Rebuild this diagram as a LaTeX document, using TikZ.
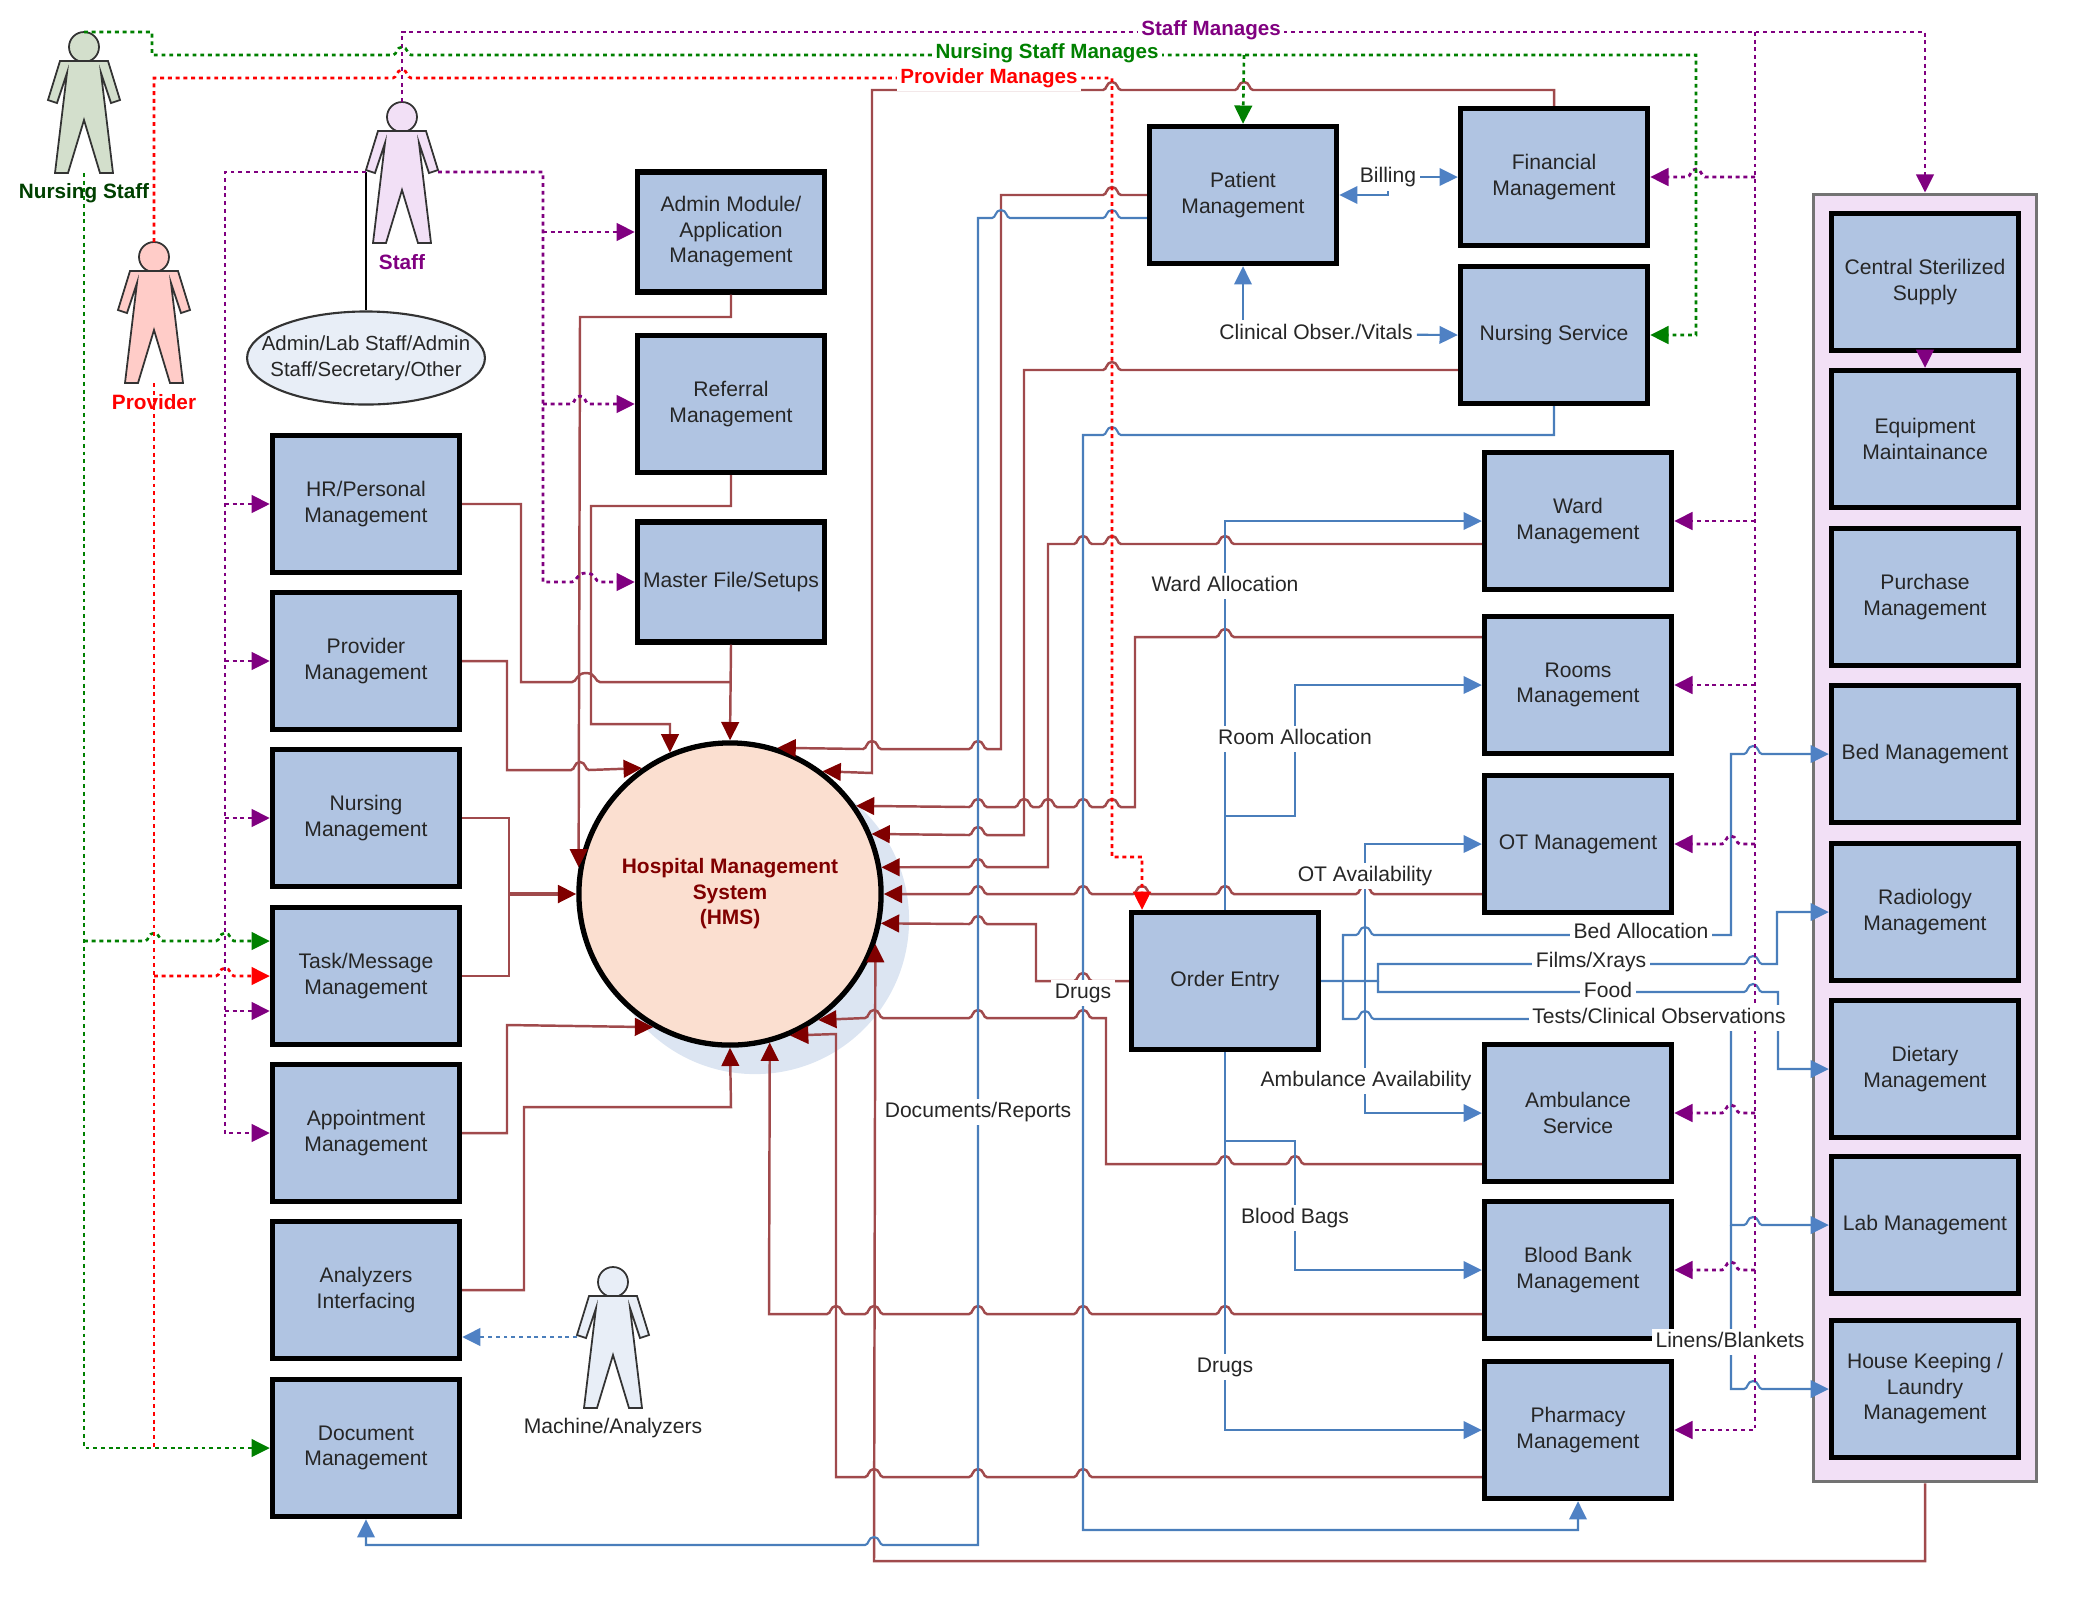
\documentclass[tikz,border=0pt]{standalone}
\usepackage{fontspec}
\setmainfont{Liberation Sans}
\usetikzlibrary{arrows.meta,shapes.geometric}
\definecolor{boxblue}{HTML}{B0C4E2}
\definecolor{grpfill}{HTML}{F2E0F6}
\definecolor{hmsfill}{HTML}{FBDFD0}
\definecolor{hmsshade}{HTML}{DCE5F2}
\definecolor{lnbrown}{HTML}{A04A4C}
\definecolor{tipbrown}{HTML}{800000}
\definecolor{lnblue}{HTML}{4A7EBB}
\definecolor{tipblue}{HTML}{4F81C4}
\definecolor{pale}{HTML}{E8EEF7}
\definecolor{nursefill}{HTML}{D3DFCC}
\definecolor{provfill}{HTML}{FFCCC8}
\definecolor{purp}{HTML}{800080}
\definecolor{grnn}{HTML}{008000}
% line jumps, going right and going left
\newcommand\hopr[2]{-- ({#1-9},#2) .. controls ({#1-5},#2) and ({#1-6},{#2-8}) .. (#1,{#2-8}) .. controls ({#1+6},{#2-8}) and ({#1+5},#2) .. ({#1+9},#2)}
\newcommand\hopl[2]{-- ({#1+9},#2) .. controls ({#1+5},#2) and ({#1+6},{#2-8}) .. (#1,{#2-8}) .. controls ({#1-6},{#2-8}) and ({#1-5},#2) .. ({#1-9},#2)}
\newcommand\hoprw[2]{-- ({#1-14},#2) .. controls ({#1-9},#2) and ({#1-10},{#2-9}) .. (#1,{#2-9}) .. controls ({#1+10},{#2-9}) and ({#1+9},#2) .. ({#1+14},#2)}
\tikzset{
  actor/.pic={
    \draw[pic actions] (0,15) circle [radius=15];
    \draw[pic actions] (-24,29) -- (-36,68) -- (-27,71) -- (-17,41) -- (-29,141) -- (-16,141)
      -- (0,88) -- (16,141) -- (29,141) -- (17,41) -- (27,71) -- (36,68) -- (24,29) -- cycle;
    \coordinate (-head) at (0,0);
    \coordinate (-feet) at (0,141);
    \coordinate (-lh) at (-36,70);
    \coordinate (-rh) at (36,70);
  }
}
\begin{document}
\begin{tikzpicture}[x=0.01cm,y=-0.01cm,
  module/.style={draw=black,line width=1.5pt,fill=boxblue,inner sep=0,minimum width=1.87cm,minimum height=1.37cm,
    align=center,text=black!85,font=\fontsize{6}{7.25}\selectfont},
  lbl/.style={fill=white,inner sep=1pt,text height=4.4pt,text depth=1.2pt,text=black!85,font=\fontsize{6}{7.25}\selectfont},
  who/.style={inner sep=0,text height=4.4pt,text depth=1.2pt,font=\fontsize{5.9}{7.25}\selectfont\bfseries},
  manages/.style={fill=white,inner sep=1pt,text height=4.4pt,text depth=1.2pt,font=\fontsize{5.85}{7.25}\selectfont\bfseries},
  brn/.style={draw=lnbrown,line width=.7pt},
  blu/.style={draw=lnblue,line width=.6pt},
  pur/.style={draw=purp,line width=.8pt,dash pattern=on 1.1pt off 1.1pt},
  grn/.style={draw=grnn,line width=.75pt,dash pattern=on 1.1pt off 1.1pt},
  rdd/.style={draw=red,line width=.75pt,dash pattern=on 1.1pt off 1.1pt},
  tipb/.style={-{Triangle[length=5.2pt,width=5pt,color=tipbrown]}},
  tipl/.style={-{Triangle[length=5.2pt,width=5pt,color=tipblue]}},
  tipp/.style={-{Triangle[length=5.2pt,width=5pt,color=purp]}},
  tipg/.style={-{Triangle[length=5.2pt,width=5pt,color=grnn]}},
  tipr/.style={-{Triangle[length=5.2pt,width=5pt,color=red]}}
  ]
  \useasboundingbox (0,0) rectangle (2100,1596);
  % 
  % Actors
  % 
  \pic (nurse)   [draw=black!80,line width=.5pt,fill=nursefill] at (84,32)    {actor};
  \pic (staff)   [draw=black!80,line width=.5pt,fill=grpfill]   at (402,102)  {actor};
  \pic (prov)    [draw=black!80,line width=.5pt,fill=provfill]  at (154,242)  {actor};
  \pic (machine) [draw=black!80,line width=.5pt,fill=pale]      at (613,1267) {actor};
  \node(staffs)[draw=black!80,line width=.6pt,fill=pale,ellipse,inner ysep=0,inner xsep=-.2cm,minimum width=2.36cm,minimum height=.93cm,
    align=center,text=black!85,font=\fontsize{5.8}{7.25}\selectfont] at (366,358) {Admin/Lab Staff/Admin\\Staff/Secretary/Other};
  % 
  % Hospital system
  % 
  \node(shade) [circle,fill=hmsshade,minimum size=3.08cm,inner sep=0] at (755,920) {};
  \node(hms)   [circle,draw=black,line width=1.5pt,fill=hmsfill,minimum size=3.02cm,inner sep=0,align=center,
    text=tipbrown,font=\fontsize{5.95}{7.25}\selectfont\bfseries] at (730,894) {Hospital Management\\System\\(HMS)};
  % 
  % Nodes
  % 
  \node(hr)       [module] at (366,504)  {HR/Personal\\Management};
  \node(provider) [module] at (366,661)  {Provider\\Management};
  \node(nursing)  [module] at (366,818)  {Nursing\\Management};
  \node(task)     [module] at (366,976)  {Task/Message\\Management};
  \node(appoint)  [module] at (366,1133) {Appointment\\Management};
  \node(analyzer) [module] at (366,1290) {Analyzers\\Interfacing};
  \node(docmgmt)  [module] at (366,1448) {Document\\Management};
  \node(admin)    [module,minimum height=1.2cm] at (731,232) {Admin Module/\\Application\\Management};
  \node(referral) [module] at (731,404)  {Referral\\Management};
  \node(master)   [module,minimum height=1.2cm] at (731,582) {Master File/Setups};
  \node(patient)  [module] at (1243,195) {Patient\\Management};
  \node(financial)[module] at (1554,177) {Financial\\Management};
  \node(nursserv) [module] at (1554,335) {Nursing Service};
  \node(ward)     [module] at (1578,521) {Ward\\Management};
  \node(rooms)    [module] at (1578,685) {Rooms\\Management};
  \node(ot)       [module] at (1578,844) {OT Management};
  \node(ambul)    [module] at (1578,1113){Ambulance\\Service};
  \node(blood)    [module] at (1578,1270){Blood Bank\\Management};
  \node(pharm)    [module] at (1578,1430){Pharmacy\\Management};
  \node(order)    [module] at (1225,981) {Order Entry};
  \node(support)  [draw=black!55,line width=.9pt,fill=grpfill,inner sep=0,minimum width=2.23cm,minimum height=12.87cm] at (1925,838) {};
  \node(central)  [module] at (1925,282) {Central Sterilized\\Supply};
  \node(equip)    [module] at (1925,439) {Equipment\\Maintainance};
  \node(purchase) [module] at (1925,597) {Purchase\\Management};
  \node(bedmg)    [module] at (1925,754) {Bed Management};
  \node(radiology)[module] at (1925,912) {Radiology\\Management};
  \node(dietary)  [module] at (1925,1069){Dietary\\Management};
  \node(lab)      [module] at (1925,1225){Lab Management};
  \node(house)    [module] at (1925,1389){House Keeping /\\Laundry\\Management};
  \node(vitals)   [lbl] at (1316,334) {Clinical Obser./Vitals};
  \node(billing)  [lbl] at (1388,177) {Billing};
  % 
  % Arrows
  % 
  % hr -> hms
  \draw[brn] (hr.east) -- (521,504) -- (521,682) \hoprw{586}{682} -- (731,682);
  \draw[brn,tipb] (master.south) -- (hms.north);
  % admin -> hms
  \draw[brn,tipb] (admin.south) -- (731,317) -- (580,317) -- (hms.170);
  % referral -> hms
  \draw[brn,tipb] (referral.south) -- (731,506) -- (591,506) -- (591,724) -- (670,724) -- (hms.113);
  % provider -> hms
  \draw[brn,tipb] (provider.east) -- (507,661) -- (507,770) \hopr{580}{770} -- (hms.125);
  % nursing, task -> hms
  \coordinate (merge) at (509,894);
  \draw[brn] (nursing.east) -- (509,818) -- (merge);
  \draw[brn] (task.east) -- (509,976) -- (merge);
  \draw[brn,tipb,line width=.9pt] (merge) -- (hms.west);
  % appoint -> hms
  \draw[brn,tipb] (appoint.east) -- (507,1133) -- (507,1025) -- (hms.-120);
  % analyzer -> hms
  \draw[brn,tipb] (analyzer.east) -- (524,1290) -- (524,1107) -- (731,1107) -- (hms.south);
  % financial -> hms
  \draw[brn,tipb] (financial.north) -- (1554,90) \hopl{1244}{90} \hopl{1112}{90} -- (872,90) -- (872,773) -- (hms.53);
  % patient -> hms
  \draw[brn,tipb] (patient.west) \hopl{1112}{195} -- (1001,195) -- (1001,749) \hopl{978}{749} \hopl{872}{749} -- (hms.72);
  % nursserv -> hms
  \draw[brn,tipb] (nursserv.west |- 0,370) \hopl{1112}{370} -- (1024,370) -- (1024,835) \hopl{978}{835} -- (hms.23);
  % ward -> hms
  \draw[brn,tipb] (ward.west |- 0,544) \hopl{1225}{544} \hopl{1112}{544} \hopl{1083}{544} -- (1048,544) -- (1048,867) \hopl{978}{867} -- (hms.10);
  % rooms -> hms
  \draw[brn,tipb] (rooms.west |- 0,637) \hopl{1225}{637} -- (1135,637) -- (1135,807) \hopl{1112}{807} \hopl{1083}{807} \hopl{1048}{807} \hopl{1024}{807} \hopl{978}{807} -- (hms.35);
  % ot -> hms
  \draw[brn,tipb] (ot.west |- 0,894) \hopl{1365}{894} \hopl{1225}{894} \hopl{1142}{894} \hopl{1083}{894} \hopl{978}{894} -- (hms.east);
  % order -> hms
  \draw[brn,tipb] (order.west) \hopl{1083}{981} -- (1036,981) -- (1036,924) \hopl{978}{924} -- (hms.-11);
  % ambul -> hms
  \draw[brn,tipb] (ambul.west |- 0,1164) \hopl{1295}{1164} \hopl{1225}{1164} -- (1106,1164) -- (1106,1018) \hopl{1083}{1018} \hopl{978}{1018} \hopl{874}{1018} -- (hms.-55);
  % blood -> hms
  \draw[brn,tipb] (blood.west |- 0,1314) \hopl{1225}{1314} \hopl{1083}{1314} \hopl{978}{1314} \hopl{874}{1314} \hopl{836}{1314} -- (769,1314) -- (hms.-75);
  % pharm -> hms
  \draw[brn,tipb] (pharm.west |- 0,1477) \hopl{1083}{1477} \hopl{978}{1477} \hopl{874}{1477} -- (836,1477) -- (836,1034) -- (hms.-67);
  % support -> hms
  \draw[brn,tipb] (support.south) -- (1925,1561) -- (874,1561) -- (hms.-19);
  % patient -> docmgmt
  \draw[blu,tipl] (patient.west |- 0,218) \hopl{1112}{218} \hopl{1001}{218} -- (978,218) -- (978,1545) \hopl{874}{1545} -- (366,1545) -- (docmgmt.south);
  % nursserv -> pharm
  \draw[blu,tipl] (nursserv.south) -- (1554,435) \hopl{1112}{435} -- (1083,435) -- (1083,1530) -- (1578,1530) -- (pharm.south);
  % order -> ward, rooms
  \draw[blu,tipl] (order.north) |- (ward.west);
  \draw[blu,tipl] (order.north |- 0,816) -- (1295,816) |- (rooms.west);
  % order -> pharm, blood
  \draw[blu,tipl] (order.south) |- (pharm.west);
  \draw[blu,tipl] (order.south |- 0,1141) -- (1295,1141) |- (blood.west);
  % order -> radiology, dietary
  \draw[blu,tipl] (order.east) -- (1378,981) -- (1378,964) \hopr{1753}{964} -- (1777,964) |- (radiology.west);
  \draw[blu,tipl] (1378,981) -- (1378,992) \hopr{1753}{992} -- (1778,992) |- (dietary.west);
  % order -> bedmg
  \draw[blu,tipl] (1343,981) -- (1343,935) \hopr{1365}{935} -- (1731,935) -- (1731,754) \hopr{1753}{754} -- (bedmg.west);
  % order -> lab, house
  \draw[blu,tipl] (1343,981) -- (1343,1019) \hopr{1365}{1019} -- (1731,1019) -- (1731,1225) \hopr{1753}{1225} -- (lab.west);
  \draw[blu,tipl] (1731,1225) -- (1731,1389) \hopr{1753}{1389} -- (house.west);
  % ot <-> ambul
  \draw[blu,{Triangle[length=5.2pt,width=5pt,color=tipblue]}-{Triangle[length=5.2pt,width=5pt,color=tipblue]}] (ot.west) -- (1365,844) -- (1365,1113) -- (ambul.west);
  % billing
  \draw[blu,tipl] (billing) -- (financial.west);
  \draw[blu,tipl] (billing.south) |- (patient.east);
  % vitals
  \draw[blu,tipl] (vitals) -- (nursserv.west);
  \draw[blu,tipl] (patient.south |- vitals.north) -- (patient.south);
  % machine -> analyzer
  \draw[blu,tipl,line width=.8pt,dash pattern=on 1.1pt off 1.1pt] (machine-lh) -- (analyzer.east |- machine-lh);
  % staff -> ellipse
  \draw[draw=black,line width=.5pt] (staff-lh) -- (staffs.north);
  % staff -> left column
  \draw[pur,tipp] (staff-lh) -- (225,172) -- (225,1133) -- (appoint.west);
  \draw[pur,tipp] (225,504) -- (hr.west);
  \draw[pur,tipp] (225,661) -- (provider.west);
  \draw[pur,tipp] (225,818) -- (nursing.west);
  \draw[pur,tipp] (225,1011) -- (task.west |- 0,1011);
  % staff -> second column
  \draw[pur,tipp] (staff-rh) -- (543,172) -- (543,582) \hoprw{586}{582} -- (master.west);
  \draw[pur,tipp] (543,232) -- (admin.west);
  \draw[pur,tipp] (543,404) \hopr{580}{404} -- (referral.west);
  % staff -> support
  \draw[pur,tipp] (staff-head) -- (402,32) -- (1925,32) -- (support.north);
  \draw[pur,tipp] (central.south) -- (equip.north);
  % staff -> right column
  \draw[pur,tipp] (1755,32) -- (1755,1430) -- (pharm.east);
  \draw[pur,tipp] (1755,177) \hopl{1696}{177} -- (financial.east);
  \draw[pur,tipp] (1755,521) -- (ward.east);
  \draw[pur,tipp] (1755,685) -- (rooms.east);
  \draw[pur,tipp] (1755,844) \hopl{1731}{844} -- (ot.east);
  \draw[pur,tipp] (1755,1113) \hopl{1731}{1113} -- (ambul.east);
  \draw[pur,tipp] (1755,1270) \hopl{1731}{1270} -- (blood.east);
  % nurse -> nursserv, patient
  \draw[grn,tipg] (nurse-head) -- (152,32) -- (152,55) \hopr{402}{55} -- (1696,55) -- (1696,335) -- (nursserv.east);
  \draw[grn,tipg] (1244,55) -- (patient.north);
  % nurse -> docmgmt, task
  \draw[grn,tipg] (nurse-feet) -- (84,1448) -- (docmgmt.west);
  \draw[grn,tipg] (84,941) \hopr{154}{941} \hopr{225}{941} -- (task.west |- 0,941);
  % prov -> order
  \draw[rdd,tipr] (prov-head) -- (154,78) \hopr{402}{78} -- (1112,78) -- (1112,857) -- (1142,857) -- (order.north -| 1142,0);
  % prov -> docmgmt, task
  \draw[rdd] (prov-feet) -- (154,1448);
  \draw[rdd,tipr] (154,976) \hopr{225}{976} -- (task.west);
  % 
  % Labels
  % 
  \node(nurselbl)  [who,text=green!25!black] at (84,193)  {Nursing Staff};
  \node(stafflbl)  [who,text=purp] at (402,264) {Staff};
  \node(provlbl)   [who,text=red] at (154,404) {Provider};
  \node(machlbl)   [lbl,fill=none] at (613,1428) {Machine/Analyzers};
  \node(staffman)  [manages,text=purp] at (1211,30) {Staff Manages};
  \node(nurseman)  [manages,text=grnn] at (1047,53) {Nursing Staff Manages};
  \node(provman)   [manages,text=red] at (989,78) {Provider Manages};
  \node(wardlbl)   [lbl] at (1225,586)  {Ward Allocation};
  \node(roomlbl)   [lbl] at (1295,739)  {Room Allocation};
  \node(otlbl)     [lbl] at (1365,876)  {OT Availability};
  \node(drugslbl)  [lbl] at (1083,993)  {Drugs};
  \node(bedlbl)    [lbl] at (1641,933)  {Bed Allocation};
  \node(filmlbl)   [lbl] at (1591,962)  {Films/Xrays};
  \node(foodlbl)   [lbl] at (1608,992)  {Food};
  \node(testlbl)   [lbl] at (1659,1018) {Tests/Clinical Observations};
  \node(amblbl)    [lbl] at (1366,1081) {Ambulance Availability};
  \node(doclbl)    [lbl] at (978,1112)  {Documents/Reports};
  \node(bloodlbl)  [lbl] at (1295,1218) {Blood Bags};
  \node(linenlbl)  [lbl] at (1730,1342) {Linens/Blankets};
  \node(drugs2lbl) [lbl] at (1225,1367) {Drugs};
\end{tikzpicture}
\end{document}
